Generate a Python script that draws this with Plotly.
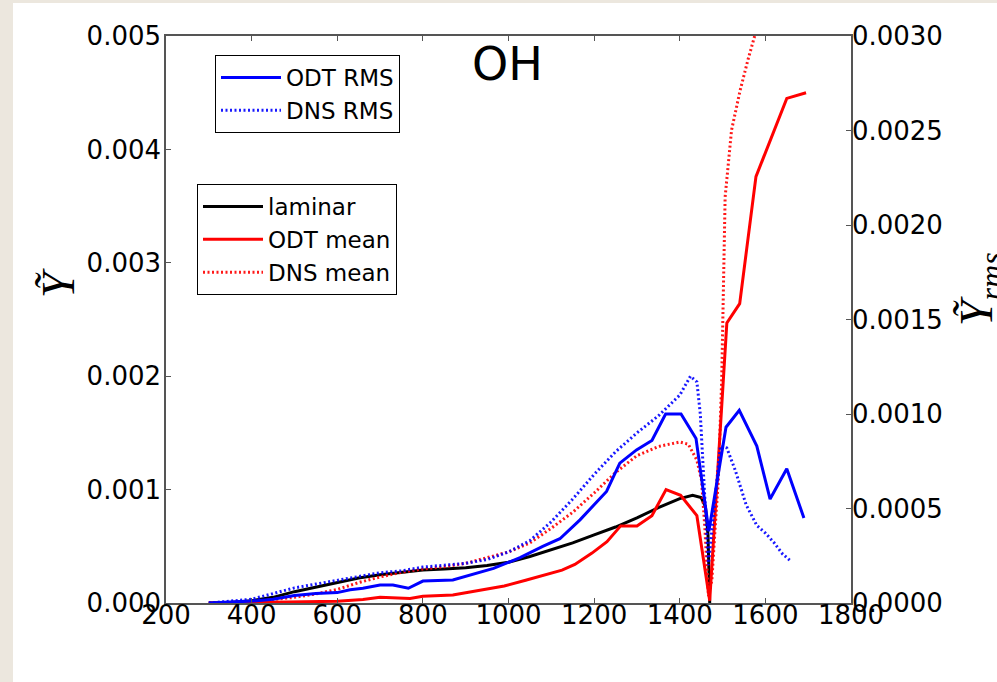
import plotly.graph_objects as go

# ---- data ----
lam_x = [300, 350, 400, 450, 500, 550, 600, 650, 700, 750, 800, 850, 900, 950, 1000,
         1050, 1100, 1150, 1200, 1250, 1300, 1350, 1400, 1430, 1450, 1460, 1466, 1470]
lam_y = [0.0, 0.000005, 0.00002, 0.00005, 0.0001, 0.00014, 0.00018, 0.00022, 0.00025,
         0.00027, 0.00029, 0.0003, 0.00031, 0.00033, 0.00036, 0.00041, 0.00047, 0.00053,
         0.0006, 0.00067, 0.00075, 0.00084, 0.00092, 0.00095, 0.00093, 0.00085, 0.0006, 0.0]

odt_mean_x = [300, 400, 500, 600, 660, 700, 770, 800, 870, 930, 990, 1040, 1090, 1125,
              1155, 1195, 1230, 1262, 1300, 1335, 1368, 1402, 1440, 1470, 1510, 1540,
              1578, 1650, 1695]
odt_mean_y = [0.0, 0.000003, 0.000008, 0.000015, 0.00003, 0.00005, 0.00004, 0.00006,
              0.00007, 0.00011, 0.00015, 0.0002, 0.00025, 0.00029, 0.00034, 0.00044,
              0.00054, 0.00068, 0.00068, 0.00077, 0.001, 0.00095, 0.00077, 0.00002,
              0.00247, 0.00264, 0.00376, 0.00445, 0.0045]

dns_mean_x = [300, 400, 450, 500, 550, 600, 650, 700, 750, 800, 850, 900, 950, 1000,
              1050, 1100, 1150, 1200, 1250, 1300, 1350, 1400, 1420, 1440, 1451, 1459,
              1467, 1475, 1482, 1490, 1498, 1502, 1506, 1521, 1541, 1560, 1575]
dns_mean_y = [0.0, 0.00001, 0.00003, 0.00005, 0.00008, 0.00012, 0.00018, 0.00023,
              0.00027, 0.0003, 0.00032, 0.00035, 0.0004, 0.00045, 0.00053, 0.00066,
              0.0008, 0.00097, 0.00115, 0.0013, 0.00138, 0.00142, 0.0014, 0.00126,
              0.00108, 0.00064, 0.00006, 0.0002, 0.00062, 0.00108, 0.00197, 0.003,
              0.00358, 0.00417, 0.00452, 0.0048, 0.005]

odt_rms_x = [300, 350, 400, 450, 500, 550, 600, 630, 660, 700, 730, 766, 800, 870, 965,
             1027, 1080, 1120, 1167, 1229, 1260, 1299, 1335, 1367, 1403, 1438, 1468,
             1508, 1539, 1580, 1611, 1650, 1690]
odt_rms_y = [0.0, 0.000003, 0.00001, 0.00002, 0.00004, 0.00005, 0.000055, 0.00007,
             0.000078, 0.000095, 0.000095, 0.000078, 0.000116, 0.000122, 0.000183,
             0.00024, 0.0003, 0.00034, 0.00044, 0.00059, 0.00074, 0.00081, 0.00086,
             0.001, 0.001, 0.00087, 0.00038, 0.00093, 0.00102, 0.00083, 0.00055,
             0.00071, 0.00045]

dns_rms_x = [300, 400, 450, 500, 550, 600, 650, 700, 750, 800, 850, 900, 950, 1000,
             1050, 1100, 1150, 1200, 1250, 1300, 1350, 1400, 1425, 1440, 1448, 1458,
             1467, 1480, 1495, 1510, 1530, 1555, 1580, 1600, 1620, 1640, 1660]
dns_rms_y = [0.0, 0.00002, 0.00005, 0.00008, 0.0001, 0.00012, 0.00014, 0.00016,
             0.00017, 0.00019, 0.0002, 0.00021, 0.00023, 0.00027, 0.00033, 0.00043,
             0.00055, 0.00068, 0.0008, 0.0009, 0.00099, 0.0011, 0.0012, 0.00117,
             0.001, 0.0006, 0.0002, 0.0005, 0.00083, 0.00082, 0.0007, 0.00052,
             0.00041, 0.00037, 0.00032, 0.00026, 0.00022]

x_ticks = [200, 400, 600, 800, 1000, 1200, 1400, 1600, 1800]
y_ticks = [0.0, 0.001, 0.002, 0.003, 0.004, 0.005]
y2_ticks = [0.0, 0.0005, 0.001, 0.0015, 0.002, 0.0025, 0.003]

BLUE = "#0000ff"
RED = "#ff0000"
DOT = "2px,2.5px"

fig = go.Figure()
fig.add_trace(go.Scatter(x=lam_x, y=lam_y, name="laminar", mode="lines",
                         line=dict(color="black", width=3), legend="legend2"))
fig.add_trace(go.Scatter(x=odt_mean_x, y=odt_mean_y, name="ODT mean", mode="lines",
                         line=dict(color=RED, width=3), legend="legend2"))
fig.add_trace(go.Scatter(x=dns_mean_x, y=dns_mean_y, name="DNS mean", mode="lines",
                         line=dict(color=RED, width=3, dash=DOT), opacity=0.9,
                         legend="legend2"))
fig.add_trace(go.Scatter(x=odt_rms_x, y=odt_rms_y, name="ODT RMS", mode="lines",
                         line=dict(color=BLUE, width=3), yaxis="y2", legend="legend"))
fig.add_trace(go.Scatter(x=dns_rms_x, y=dns_rms_y, name="DNS RMS", mode="lines",
                         line=dict(color=BLUE, width=3, dash=DOT), opacity=0.9,
                         yaxis="y2", legend="legend"))

L, R, T, B = 166, 146, 36, 79
W, H = 997, 682
PW, PH = W - L - R, H - T - B


def px(x):
    return (x - L) / PW


def py(y):
    return (H - B - y) / PH


tickfont = dict(family="DejaVu Sans", size=26, color="black")
axis_common = dict(showline=True, linecolor="#555", linewidth=1.5, ticks="inside",
                   ticklen=5, tickcolor="#555", tickwidth=1, showgrid=False,
                   zeroline=False, tickfont=tickfont)

legfont = dict(family="DejaVu Sans", size=23, color="black")

fig.update_layout(
    width=W, height=H,
    margin=dict(l=L, r=R, t=T, b=B),
    paper_bgcolor="#ece7de",
    plot_bgcolor="white",
    showlegend=True,
    xaxis=dict(range=[200, 1800], tickvals=x_ticks, mirror="ticks",
               ticklabelstandoff=-12, **axis_common),
    yaxis=dict(range=[0, 0.005], tickvals=y_ticks, tickformat=".3f",
               ticklabelstandoff=-2, **axis_common),
    yaxis2=dict(range=[0, 0.003], tickvals=y2_ticks, tickformat=".4f", overlaying="y",
                side="right", ticklabelstandoff=-6, **axis_common),
    legend=dict(x=px(215), y=py(55), xanchor="left", yanchor="top",
                bgcolor="white", bordercolor="black", borderwidth=1,
                font=legfont, itemwidth=60, tracegroupgap=0),
    legend2=dict(x=px(197), y=py(184), xanchor="left", yanchor="top",
                 bgcolor="white", bordercolor="black", borderwidth=1,
                 font=legfont, itemwidth=60, tracegroupgap=0),
    shapes=[dict(type="rect", xref="paper", yref="paper", layer="below",
                 x0=px(13), x1=px(1005), y0=py(690), y1=py(3),
                 fillcolor="white", line=dict(width=0))],
    annotations=[
        dict(text="OH", x=px(507), y=py(64), xref="paper", yref="paper",
             showarrow=False, font=dict(family="DejaVu Sans", size=46, color="black"),
             xanchor="center", yanchor="middle"),
        dict(text="<i>Ỹ</i>", x=px(58), y=py(283), xref="paper", yref="paper",
             showarrow=False, textangle=-90,
             font=dict(family="Liberation Serif", size=46, color="black"),
             xanchor="center", yanchor="middle"),
        dict(text="<i>Ỹ</i><sub><i>rms</i></sub>", x=px(980), y=py(289),
             xref="paper", yref="paper", showarrow=False, textangle=-90,
             font=dict(family="Liberation Serif", size=46, color="black"),
             xanchor="center", yanchor="middle"),
    ],
)

fig.write_html("out.html", config={"displayModeBar": False},
               post_script="document.body.style.margin='0';")
